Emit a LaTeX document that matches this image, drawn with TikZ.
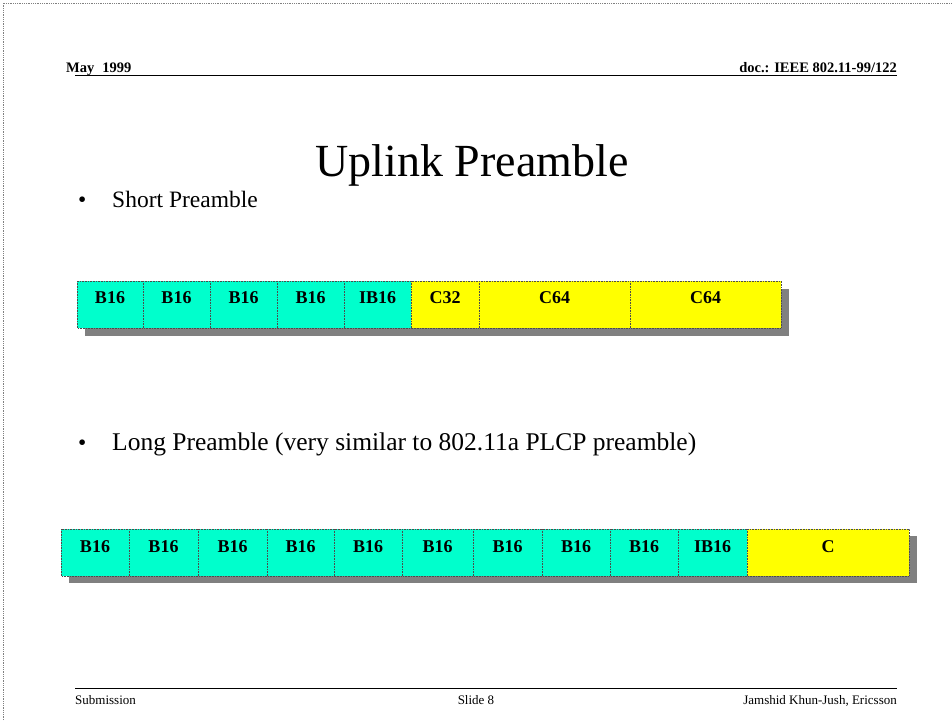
\documentclass[tikz,border=0pt]{standalone}
\usepackage{fontspec}
\setmainfont{Liberation Serif}
\definecolor{boxcyan}{RGB}{0,255,204}
\definecolor{boxyellow}{RGB}{255,255,0}
\definecolor{shadowgray}{RGB}{128,128,128}
\tikzstyle{every node}=[inner sep=0pt]
\tikzstyle{field}=[draw=black!70,densely dotted,line width=.6pt]
\tikzstyle{dropshadow}=[fill=shadowgray]
\tikzstyle{lab}=[font=\fontsize{18}{18}\selectfont\bfseries]
\tikzstyle{head}=[font=\fontsize{14.5}{14.5}\selectfont\bfseries,anchor=base]
\tikzstyle{foot}=[font=\fontsize{13}{13}\selectfont,anchor=base]
\tikzstyle{bullet}=[font=\fontsize{23.5}{24}\selectfont,anchor=base west]
\begin{document}
\begin{tikzpicture}[x=1pt,y=-1pt]
    \useasboundingbox (0,0) rectangle (952,720);
    \draw[shadowgray,densely dotted,line width=.8pt] (3,720)--(3,3)--(952,3);
    % header and footer
    \node[head,anchor=base west] (date) at (66,72) {May\hspace{8pt}1999};
    \node[head,anchor=base east] (doc) at (897,72) {doc.: IEEE 802.11-99/122};
    \draw[line width=1pt] (75,75)--(897,75);
    \draw[line width=1pt] (75,688)--(897,688);
    \node[foot,anchor=base west] (sub) at (75,704) {Submission};
    \node[foot] (slide) at (476,704) {Slide 8};
    \node[foot,anchor=base east] (auth) at (897,704) {Jamshid Khun-Jush, Ericsson};
    \node[font=\fontsize{46}{46}\selectfont,anchor=base] (title) at (472,176) {Uplink Preamble};
    \node[bullet] (dot1) at (78,207) {\textbullet};
    \node[bullet] (short) at (112,207) {Short Preamble};
    \node[bullet] (dot2) at (78,450) {\textbullet};
    \node[bullet,font=\fontsize{25.5}{26}\selectfont] (long) at (112,450) {Long Preamble (very similar to 802.11a PLCP preamble)};
    % short preamble
    \foreach \a/\b in {77/143,143/210,210/277,277/344,344/411,411/479,479/630,630/781}
      \fill[dropshadow] (\a+8,289) rectangle (\b+8,336);
    \foreach \a/\b/\t/\c [count=\i] in {77/143/B16/boxcyan,143/210/B16/boxcyan,
        210/277/B16/boxcyan,277/344/B16/boxcyan,344/411/IB16/boxcyan,
        411/479/C32/boxyellow,479/630/C64/boxyellow,630/781/C64/boxyellow}{
      \draw[field,fill=\c] (\a,281) rectangle (\b,328);
      \node[lab] (s\i) at ({(\a+\b)/2},298) {\t};
    }
    % long preamble
    \foreach \a/\b in {61/129,129/198,198/267,267/334,334/402,402/473,473/542,
        542/610,610/678,678/747,747/909}
      \fill[dropshadow] (\a+8,536) rectangle (\b+8,583);
    \foreach \a/\b/\t/\c [count=\i] in {61/129/B16/boxcyan,129/198/B16/boxcyan,
        198/267/B16/boxcyan,267/334/B16/boxcyan,334/402/B16/boxcyan,
        402/473/B16/boxcyan,473/542/B16/boxcyan,542/610/B16/boxcyan,
        610/678/B16/boxcyan,678/747/IB16/boxcyan,747/909/C/boxyellow}{
      \draw[field,fill=\c] (\a,529) rectangle (\b,576);
      \node[lab] (l\i) at ({(\a+\b)/2},547) {\t};
    }
\end{tikzpicture}
\end{document}
